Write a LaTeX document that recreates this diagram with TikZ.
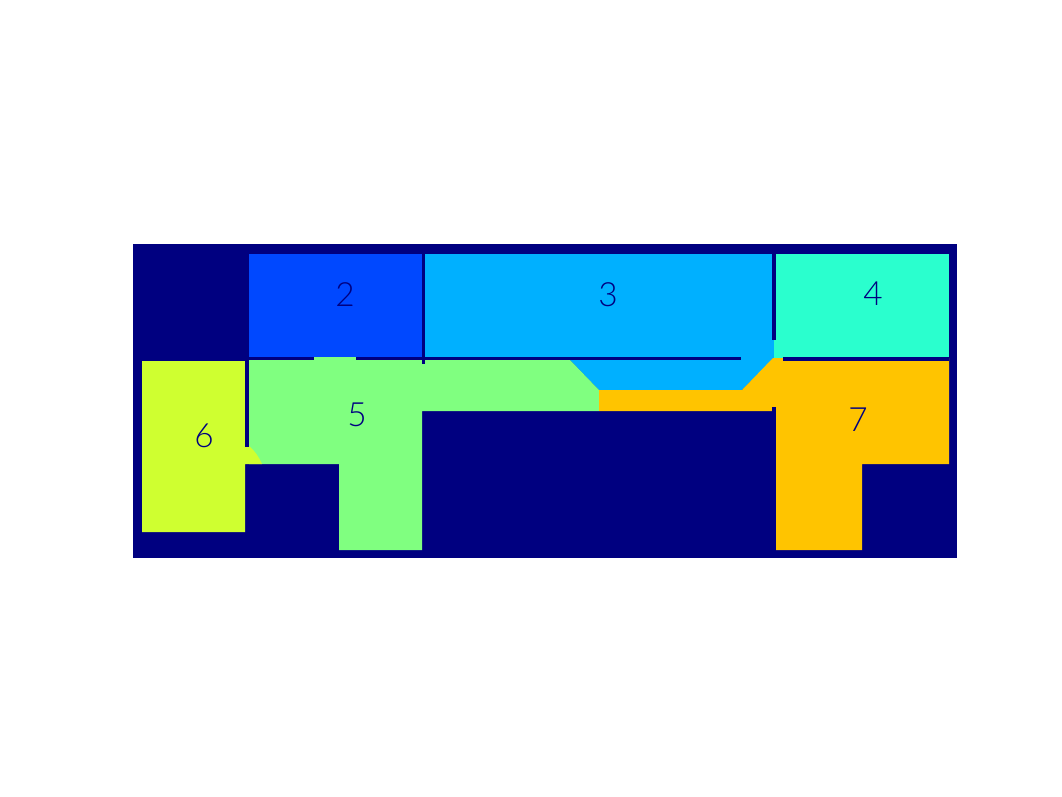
\documentclass[tikz,border=0pt]{standalone}
\usepackage{fontspec}
\setmainfont{Lato Light}
\usetikzlibrary{positioning}

\definecolor{floornavy}{RGB}{0,0,128}
\definecolor{roomtwo}{RGB}{0,72,255}
\definecolor{roomthree}{RGB}{0,176,255}
\definecolor{roomfour}{RGB}{42,255,206}
\definecolor{roomfive}{RGB}{128,255,128}
\definecolor{roomsix}{RGB}{207,255,48}
\definecolor{roomseven}{RGB}{255,196,0}

\begin{document}
\begin{tikzpicture}[
    x=0.02cm, y=-0.02cm,
    wall/.style={fill=floornavy},
    room/.style={draw=none},
    roomlabel/.style={
        text=floornavy, inner sep=0pt,
        font=\fontsize{19}{21}\selectfont
    },
]
\useasboundingbox (0,0) rectangle (1062,796);

% =====================================================================
%  BASE:  dark floor
% =====================================================================
\fill[floornavy] (133,244) rectangle (957,558);

% =====================================================================
%  ROOMS
% =====================================================================
% upper row
\fill[room, roomtwo]   (249,254) rectangle (422,360);
\fill[room, roomthree] (425,254) -- (772,254) -- (772,340) -- (774,340)
    -- (774,358) -- (742,390) -- (599,390) -- (570,360) -- (425,360) -- cycle;
\fill[room, roomfour]  (774,254) rectangle (949,358);

% room 5 with corridor
\fill[room, roomfive]  (249,357) -- (422,357) -- (422,360) -- (570,360)
    -- (599,390) -- (599,411) -- (422,411) -- (422,550) -- (339,550)
    -- (339,464) -- (249,464) -- cycle;

% room 6 with rounded lobe
\fill[room, roomsix]   (142,361) -- (249,361) -- (249,446)
    .. controls (255,451) and (259,457) .. (262,464)
    -- (245,464) -- (245,532) -- (142,532) -- cycle;

% room 7 with corridor
\fill[room, roomseven] (599,390) -- (742,390) -- (773,358) -- (949,358)
    -- (949,464) -- (862,464) -- (862,550) -- (776,550) -- (776,411)
    -- (599,411) -- cycle;

% =====================================================================
%  WALLS
% =====================================================================
\fill[wall] (249,357) rectangle (314,360);
\fill[wall] (356,357) rectangle (422,360);
\fill[wall] (422,254) rectangle (425,364);
\fill[wall] (425,357) rectangle (741,360);
\fill[wall] (772,254) rectangle (776,340);
\fill[wall] (783,357) rectangle (949,361);
\fill[wall] (245,361) rectangle (249,447);
\fill[wall] (772,407) rectangle (776,412);

% =====================================================================
%  LABELS
% =====================================================================
\node[roomlabel] (lbltwo)   at (345,295) {2};
\node[roomlabel] (lblthree) at (608,295) {3};
\node[roomlabel] (lblfour)  at (873,294) {4};
\node[roomlabel] (lblfive)  at (357,415) {5};
\node[roomlabel] (lblsix)   at (204,436) {6};
\node[roomlabel] (lblseven) at (858,420) {7};

\end{tikzpicture}
\end{document}
